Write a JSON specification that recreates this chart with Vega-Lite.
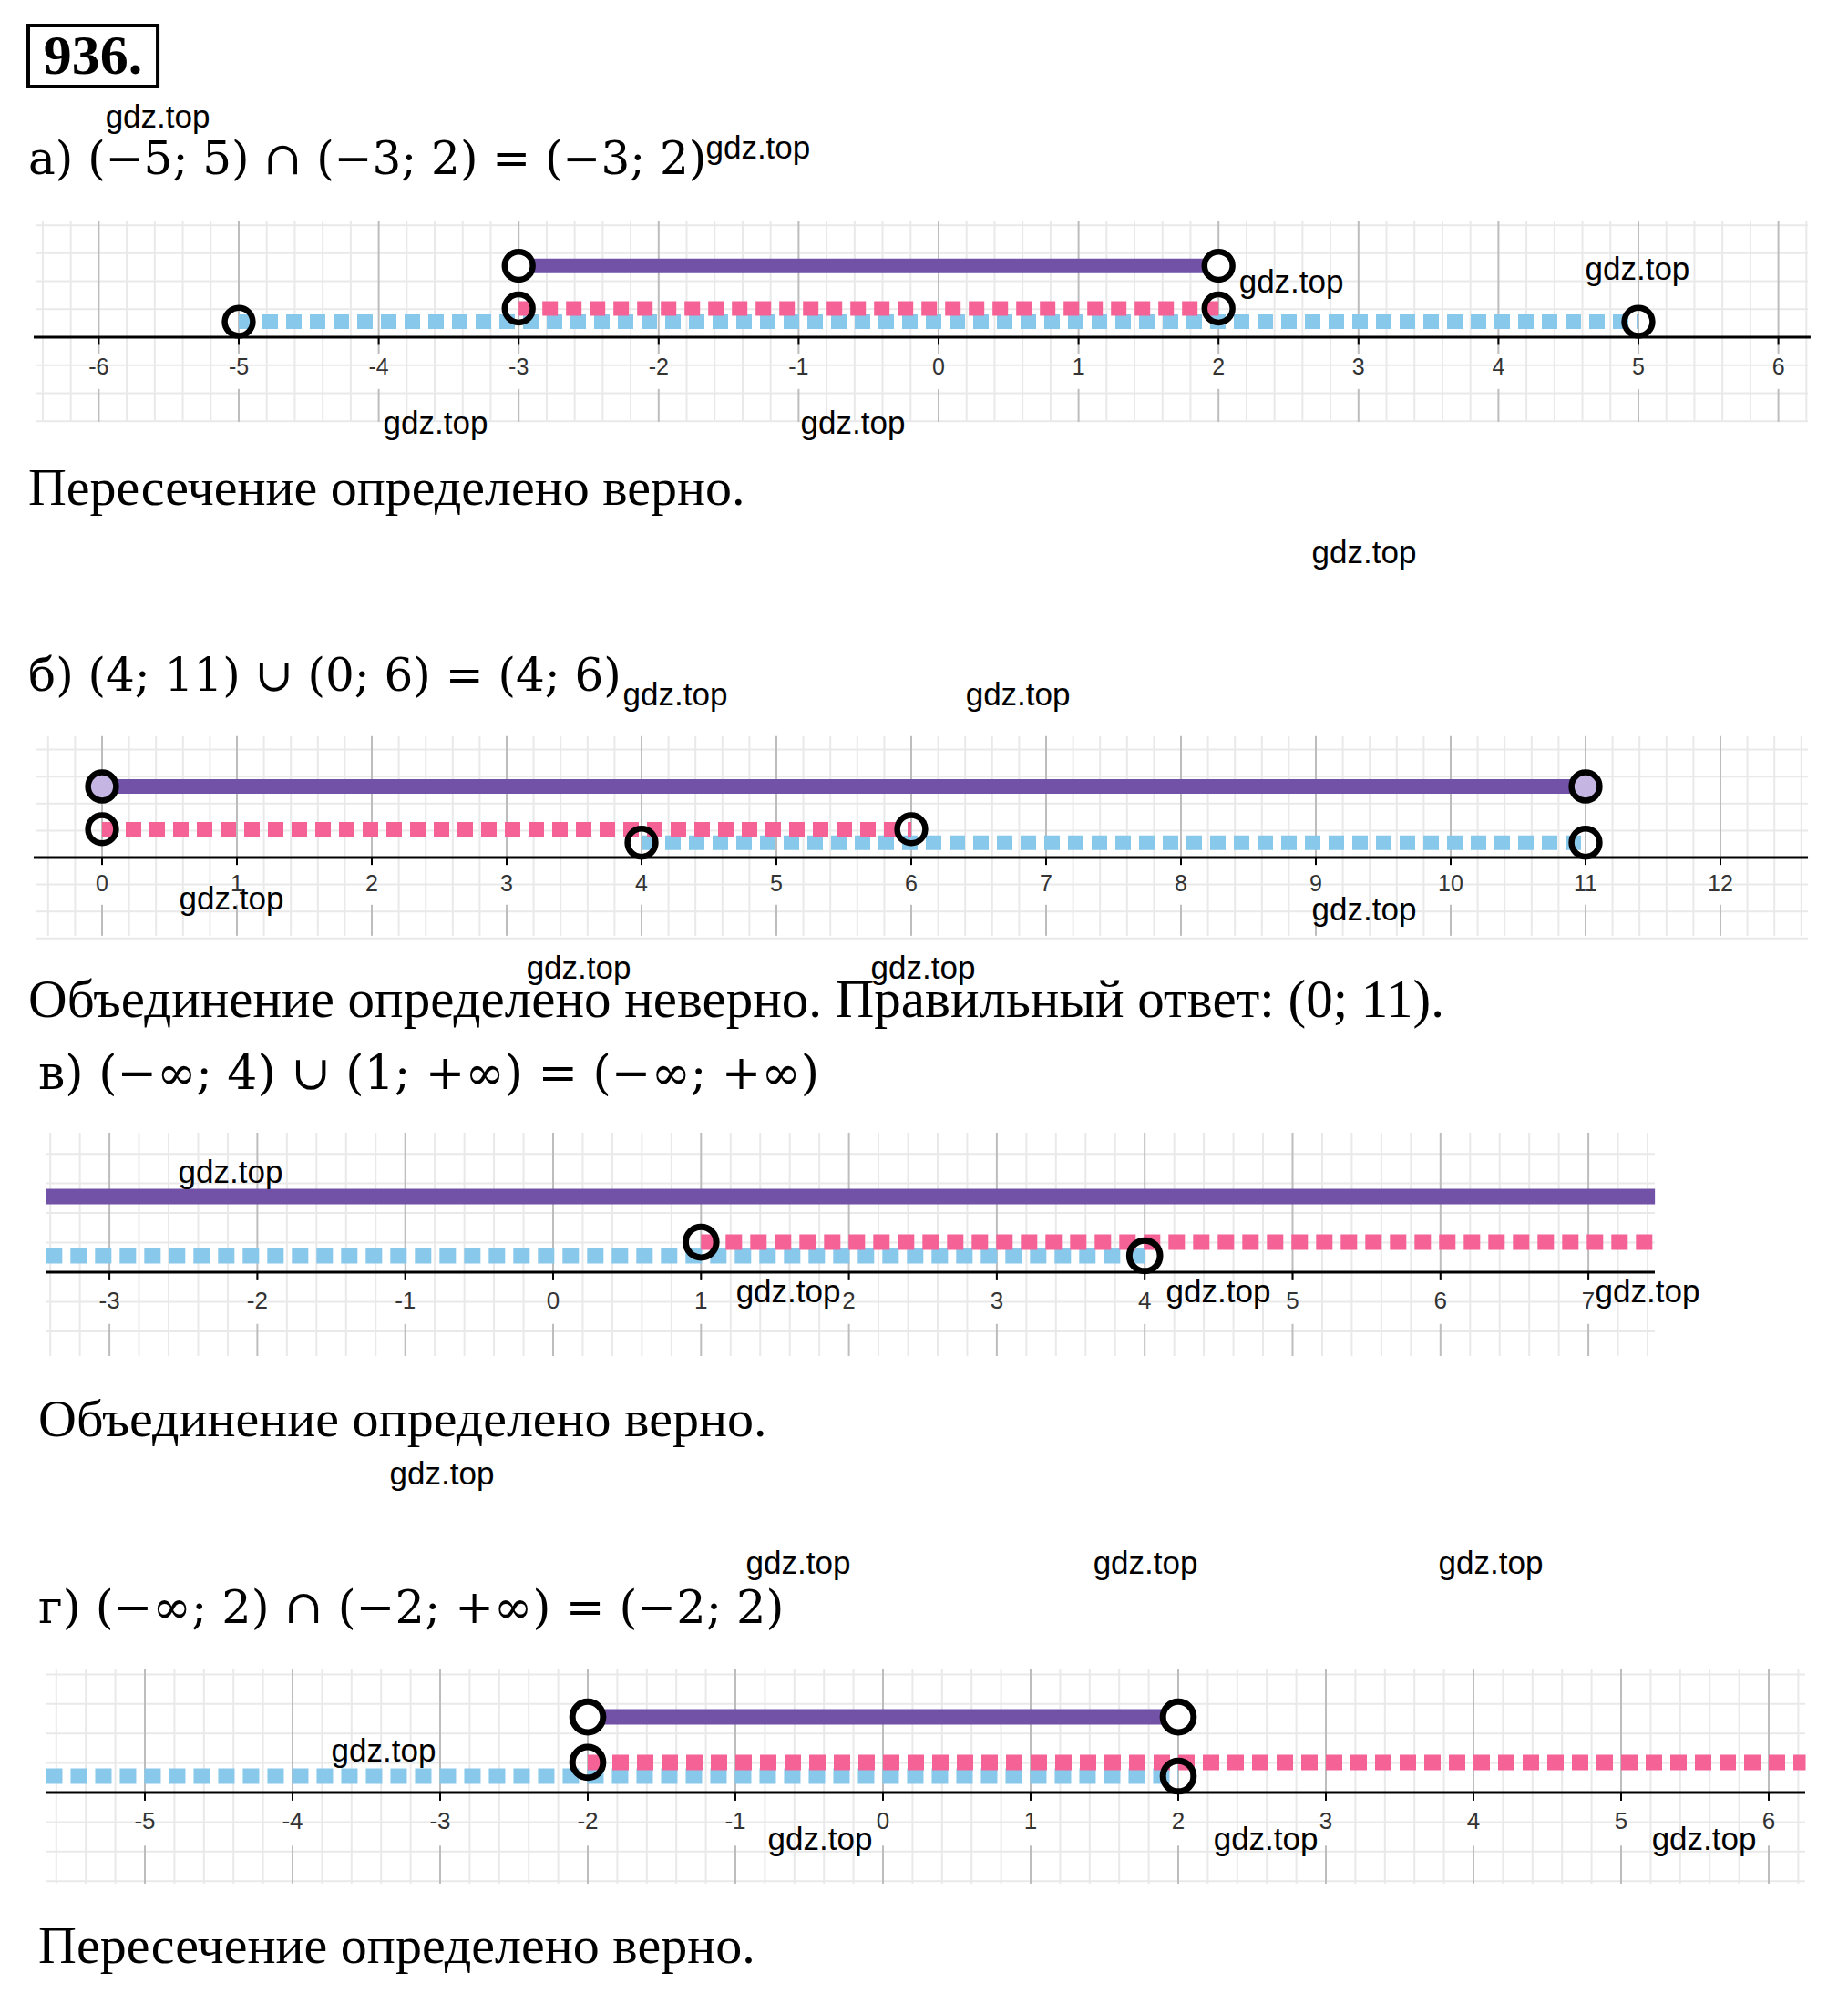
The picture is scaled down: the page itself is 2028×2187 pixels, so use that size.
{
"$schema":"https://vega.github.io/schema/vega-lite/v6.json",
"padding":0,
"spacing":0,
"background":"white",
"config":{"view":{"stroke":null}},
"datasets":{
"sections":[{"sec":"a"},{"sec":"b"},{"sec":"c"},{"sec":"d"}],
"ticks":[
{"sec":"a","v":-6,"label":"-6"},{"sec":"a","v":-5,"label":"-5"},{"sec":"a","v":-4,"label":"-4"},{"sec":"a","v":-3,"label":"-3"},{"sec":"a","v":-2,"label":"-2"},{"sec":"a","v":-1,"label":"-1"},{"sec":"a","v":0,"label":"0"},{"sec":"a","v":1,"label":"1"},{"sec":"a","v":2,"label":"2"},{"sec":"a","v":3,"label":"3"},{"sec":"a","v":4,"label":"4"},{"sec":"a","v":5,"label":"5"},{"sec":"a","v":6,"label":"6"},
{"sec":"b","v":0,"label":"0"},{"sec":"b","v":1,"label":"1"},{"sec":"b","v":2,"label":"2"},{"sec":"b","v":3,"label":"3"},{"sec":"b","v":4,"label":"4"},{"sec":"b","v":5,"label":"5"},{"sec":"b","v":6,"label":"6"},{"sec":"b","v":7,"label":"7"},{"sec":"b","v":8,"label":"8"},{"sec":"b","v":9,"label":"9"},{"sec":"b","v":10,"label":"10"},{"sec":"b","v":11,"label":"11"},{"sec":"b","v":12,"label":"12"},
{"sec":"c","v":-3,"label":"-3"},{"sec":"c","v":-2,"label":"-2"},{"sec":"c","v":-1,"label":"-1"},{"sec":"c","v":0,"label":"0"},{"sec":"c","v":1,"label":"1"},{"sec":"c","v":2,"label":"2"},{"sec":"c","v":3,"label":"3"},{"sec":"c","v":4,"label":"4"},{"sec":"c","v":5,"label":"5"},{"sec":"c","v":6,"label":"6"},{"sec":"c","v":7,"label":"7"},
{"sec":"d","v":-5,"label":"-5"},{"sec":"d","v":-4,"label":"-4"},{"sec":"d","v":-3,"label":"-3"},{"sec":"d","v":-2,"label":"-2"},{"sec":"d","v":-1,"label":"-1"},{"sec":"d","v":0,"label":"0"},{"sec":"d","v":1,"label":"1"},{"sec":"d","v":2,"label":"2"},{"sec":"d","v":3,"label":"3"},{"sec":"d","v":4,"label":"4"},{"sec":"d","v":5,"label":"5"},{"sec":"d","v":6,"label":"6"}
],
"gridx":[
{"sec":"a","vx":[-6.4,-6.2,-6,-5.8,-5.6,-5.4,-5.2,-5,-4.8,-4.6,-4.4,-4.2,-4,-3.8,-3.6,-3.4,-3.2,-3,-2.8,-2.6,-2.4,-2.2,-2,-1.8,-1.6,-1.4,-1.2,-1,-0.8,-0.6,-0.4,-0.2,0,0.2,0.4,0.6,0.8,1,1.2,1.4,1.6,1.8,2,2.2,2.4,2.6,2.8,3,3.2,3.4,3.6,3.8,4,4.2,4.4,4.6,4.8,5,5.2,5.4,5.6,5.8,6,6.2]},
{"sec":"b","vx":[-0.4,-0.2,0,0.2,0.4,0.6,0.8,1,1.2,1.4,1.6,1.8,2,2.2,2.4,2.6,2.8,3,3.2,3.4,3.6,3.8,4,4.2,4.4,4.6,4.8,5,5.2,5.4,5.6,5.8,6,6.2,6.4,6.6,6.8,7,7.2,7.4,7.6,7.8,8,8.2,8.4,8.6,8.8,9,9.2,9.4,9.6,9.8,10,10.2,10.4,10.6,10.8,11,11.2,11.4,11.6,11.8,12,12.2,12.4,12.6]},
{"sec":"c","vx":[-3.4,-3.2,-3,-2.8,-2.6,-2.4,-2.2,-2,-1.8,-1.6,-1.4,-1.2,-1,-0.8,-0.6,-0.4,-0.2,0,0.2,0.4,0.6,0.8,1,1.2,1.4,1.6,1.8,2,2.2,2.4,2.6,2.8,3,3.2,3.4,3.6,3.8,4,4.2,4.4,4.6,4.8,5,5.2,5.4,5.6,5.8,6,6.2,6.4,6.6,6.8,7,7.2,7.4]},
{"sec":"d","vx":[-5.6,-5.4,-5.2,-5,-4.8,-4.6,-4.4,-4.2,-4,-3.8,-3.6,-3.4,-3.2,-3,-2.8,-2.6,-2.4,-2.2,-2,-1.8,-1.6,-1.4,-1.2,-1,-0.8,-0.6,-0.4,-0.2,0,0.2,0.4,0.6,0.8,1,1.2,1.4,1.6,1.8,2,2.2,2.4,2.6,2.8,3,3.2,3.4,3.6,3.8,4,4.2,4.4,4.6,4.8,5,5.2,5.4,5.6,5.8,6,6.2]}
],
"gridy":[
{"sec":"a","vy":[-0.6,-0.4,-0.2,0.2,0.4,0.6,0.8]},
{"sec":"b","vy":[-0.6,-0.4,-0.2,0.2,0.4,0.6,0.8]},
{"sec":"c","vy":[-0.4,-0.2,0.2,0.4,0.6,0.8]},
{"sec":"d","vy":[-0.6,-0.4,-0.2,0.2,0.4,0.6,0.8]}
],
"intervals":[
{"sec":"a","series":"first","from":-5,"to":5},
{"sec":"a","series":"second","from":-3,"to":2},
{"sec":"a","series":"result","from":-3,"to":2},
{"sec":"b","series":"first","from":4,"to":11},
{"sec":"b","series":"second","from":0,"to":6},
{"sec":"b","series":"result","from":0,"to":11},
{"sec":"c","series":"first","from":-3.43,"to":4},
{"sec":"c","series":"second","from":1,"to":7.45},
{"sec":"c","series":"result","from":-3.43,"to":7.45},
{"sec":"d","series":"first","from":-5.67,"to":2},
{"sec":"d","series":"second","from":-2,"to":6.25},
{"sec":"d","series":"result","from":-2,"to":2}
],
"ends":[
{"sec":"a","series":"first","x":-5},{"sec":"a","series":"first","x":5},
{"sec":"a","series":"second","x":-3},{"sec":"a","series":"second","x":2},
{"sec":"a","series":"result","x":-3},{"sec":"a","series":"result","x":2},
{"sec":"b","series":"first","x":4},{"sec":"b","series":"first","x":11},
{"sec":"b","series":"second","x":0},{"sec":"b","series":"second","x":6},
{"sec":"b","series":"result","x":0},{"sec":"b","series":"result","x":11},
{"sec":"c","series":"first","x":4},
{"sec":"c","series":"second","x":1},
{"sec":"d","series":"first","x":2},
{"sec":"d","series":"second","x":-2},
{"sec":"d","series":"result","x":-2},{"sec":"d","series":"result","x":2}
],
"notes":[
{"sec":"a","kind":"num","text":"936.","x":-6.042,"y":2.005},
{"sec":"a","kind":"head","text":"а) (−5; 5) ∩ (−3; 2) = (−3; 2)","x":-6.504,"y":1.263},
{"sec":"a","kind":"body","text":"Пересечение определено верно.","x":-6.504,"y":-1.087},
{"sec":"a","kind":"wm","text":"gdz.top","x":-5.579,"y":1.566},
{"sec":"a","kind":"wm","text":"gdz.top","x":-1.29,"y":1.348},
{"sec":"a","kind":"wm","text":"gdz.top","x":2.52,"y":0.391},
{"sec":"a","kind":"wm","text":"gdz.top","x":4.993,"y":0.482},
{"sec":"a","kind":"wm","text":"gdz.top","x":-3.594,"y":-0.618},
{"sec":"a","kind":"wm","text":"gdz.top","x":-0.612,"y":-0.618},
{"sec":"a","kind":"wm","text":"gdz.top","x":3.04,"y":-1.543},
{"sec":"b","kind":"head","text":"б) (4; 11) ∪ (0; 6) = (4; 6)","x":-0.547,"y":1.338},
{"sec":"b","kind":"body","text":"Объединение определено неверно. Правильный ответ: (0; 11).","x":-0.547,"y":-1.061},
{"sec":"b","kind":"wm","text":"gdz.top","x":4.25,"y":1.203},
{"sec":"b","kind":"wm","text":"gdz.top","x":6.791,"y":1.203},
{"sec":"b","kind":"wm","text":"gdz.top","x":0.959,"y":-0.311},
{"sec":"b","kind":"wm","text":"gdz.top","x":9.358,"y":-0.392},
{"sec":"b","kind":"wm","text":"gdz.top","x":3.534,"y":-0.824},
{"sec":"b","kind":"wm","text":"gdz.top","x":6.088,"y":-0.824},
{"sec":"c","kind":"head","text":"в) (−∞; 4) ∪ (1; +∞) = (−∞; +∞)","x":-3.481,"y":1.337},
{"sec":"c","kind":"body","text":"Объединение определено верно.","x":-3.481,"y":-1.004},
{"sec":"c","kind":"wm","text":"gdz.top","x":-2.181,"y":0.672},
{"sec":"c","kind":"wm","text":"gdz.top","x":1.59,"y":-0.136},
{"sec":"c","kind":"wm","text":"gdz.top","x":4.498,"y":-0.136},
{"sec":"c","kind":"wm","text":"gdz.top","x":7.4,"y":-0.136},
{"sec":"c","kind":"wm","text":"gdz.top","x":-0.752,"y":-1.368},
{"sec":"d","kind":"head","text":"г) (−∞; 2) ∩ (−2; +∞) = (−2; 2)","x":-5.722,"y":1.241},
{"sec":"d","kind":"body","text":"Пересечение определено верно.","x":-5.722,"y":-1.049},
{"sec":"d","kind":"wm","text":"gdz.top","x":-0.574,"y":1.549},
{"sec":"d","kind":"wm","text":"gdz.top","x":1.778,"y":1.549},
{"sec":"d","kind":"wm","text":"gdz.top","x":4.117,"y":1.549},
{"sec":"d","kind":"wm","text":"gdz.top","x":-3.383,"y":0.278},
{"sec":"d","kind":"wm","text":"gdz.top","x":-0.426,"y":-0.321},
{"sec":"d","kind":"wm","text":"gdz.top","x":2.593,"y":-0.321},
{"sec":"d","kind":"wm","text":"gdz.top","x":5.562,"y":-0.321}
]
},
"vconcat":[
{"width":2028,"height":690,"layer":[
{"data":{"name":"gridx"},"transform":[{"filter":"datum.sec=='a'"},{"flatten":["vx"]},{"filter":"abs(datum.vx-round(datum.vx))>0.01"}],"mark":{"type":"rule","color":"#E9E9E9","strokeWidth":2},"encoding":{"x":{"field":"vx","type":"quantitative","scale":{"domain":[-6.7057,6.4974],"nice":false,"zero":false},"axis":null},"y":{"datum":-0.605,"type":"quantitative","scale":{"domain":[-2.0833,2.4089],"nice":false,"zero":false},"axis":null},"y2":{"datum":0.833}}},
{"data":{"name":"gridy"},"transform":[{"filter":"datum.sec=='a'"},{"flatten":["vy"]}],"mark":{"type":"rule","color":"#E9E9E9","strokeWidth":2},"encoding":{"y":{"field":"vy","type":"quantitative","axis":null},"x":{"datum":-6.452,"type":"quantitative","axis":null},"x2":{"datum":6.211}}},
{"data":{"name":"gridx"},"transform":[{"filter":"datum.sec=='a'"},{"flatten":["vx"]},{"filter":"abs(datum.vx-round(datum.vx))<=0.01"}],"mark":{"type":"rule","color":"#BDBDBD","strokeWidth":2},"encoding":{"x":{"field":"vx","type":"quantitative","axis":null},"y":{"datum":-0.12,"type":"quantitative","axis":null},"y2":{"datum":0.833}}},
{"data":{"name":"gridx"},"transform":[{"filter":"datum.sec=='a'"},{"flatten":["vx"]},{"filter":"abs(datum.vx-round(datum.vx))<=0.01"}],"mark":{"type":"rule","color":"#BDBDBD","strokeWidth":2},"encoding":{"x":{"field":"vx","type":"quantitative","axis":null},"y":{"datum":-0.605,"type":"quantitative","axis":null},"y2":{"datum":-0.37}}},
{"data":{"name":"sections"},"transform":[{"filter":"datum.sec=='a'"}],"mark":{"type":"rule","color":"#000000","strokeWidth":3},"encoding":{"x":{"datum":-6.465,"type":"quantitative","axis":null},"x2":{"datum":6.23},"y":{"datum":0,"type":"quantitative","axis":null}}},
{"data":{"name":"ticks"},"transform":[{"filter":"datum.sec=='a'"}],"mark":{"type":"rule","color":"#000000","strokeWidth":2},"encoding":{"x":{"field":"v","type":"quantitative","axis":null},"y":{"datum":-0.055,"type":"quantitative","axis":null},"y2":{"datum":0}}},
{"data":{"name":"ticks"},"transform":[{"filter":"datum.sec=='a'"}],"mark":{"type":"text","font":"Liberation Sans","fontSize":25,"color":"#333333","align":"center","baseline":"middle"},"encoding":{"x":{"field":"v","type":"quantitative","axis":null},"y":{"datum":-0.215,"type":"quantitative","axis":null},"text":{"field":"label","type":"nominal"}}},
{"data":{"name":"intervals"},"transform":[{"filter":"datum.sec=='a' && datum.series=='first'"}],"mark":{"type":"rule","color":"#87C8EB","strokeWidth":16,"strokeDash":[17,9]},"encoding":{"x":{"field":"from","type":"quantitative","axis":null},"x2":{"field":"to"},"y":{"datum":0.11,"type":"quantitative","axis":null}}},
{"data":{"name":"intervals"},"transform":[{"filter":"datum.sec=='a' && datum.series=='second'"}],"mark":{"type":"rule","color":"#F56296","strokeWidth":16,"strokeDash":[17,9]},"encoding":{"x":{"field":"from","type":"quantitative","axis":null},"x2":{"field":"to"},"y":{"datum":0.205,"type":"quantitative","axis":null}}},
{"data":{"name":"intervals"},"transform":[{"filter":"datum.sec=='a' && datum.series=='result'"}],"mark":{"type":"rule","color":"#7152A7","strokeWidth":16},"encoding":{"x":{"field":"from","type":"quantitative","axis":null},"x2":{"field":"to"},"y":{"datum":0.51,"type":"quantitative","axis":null}}},
{"data":{"name":"ends"},"transform":[{"filter":"datum.sec=='a' && datum.series=='first'"}],"mark":{"type":"point","shape":"circle","size":950,"filled":false,"color":"#000000","strokeWidth":6.5,"opacity":1},"encoding":{"x":{"field":"x","type":"quantitative","axis":null},"y":{"datum":0.11,"type":"quantitative","axis":null}}},
{"data":{"name":"ends"},"transform":[{"filter":"datum.sec=='a' && datum.series=='second'"}],"mark":{"type":"point","shape":"circle","size":950,"filled":false,"color":"#000000","strokeWidth":6.5,"opacity":1},"encoding":{"x":{"field":"x","type":"quantitative","axis":null},"y":{"datum":0.205,"type":"quantitative","axis":null}}},
{"data":{"name":"ends"},"transform":[{"filter":"datum.sec=='a' && datum.series=='result'"}],"mark":{"type":"point","shape":"circle","size":950,"filled":true,"fill":"#FFFFFF","stroke":"#000000","strokeWidth":6.5,"opacity":1},"encoding":{"x":{"field":"x","type":"quantitative","axis":null},"y":{"datum":0.51,"type":"quantitative","axis":null}}},
{"data":{"name":"sections"},"transform":[{"filter":"datum.sec=='a'"}],"mark":{"type":"rect","filled":false,"color":"#000000","strokeWidth":4},"encoding":{"x":{"datum":-6.504,"type":"quantitative","axis":null},"x2":{"datum":-5.579},"y":{"datum":1.79,"type":"quantitative","axis":null},"y2":{"datum":2.227}}},
{"data":{"name":"notes"},"transform":[{"filter":"datum.sec=='a' && datum.kind=='num'"}],"mark":{"type":"text","font":"Liberation Serif","fontWeight":"bold","fontSize":62,"align":"center","baseline":"middle","color":"#000000"},"encoding":{"x":{"field":"x","type":"quantitative","axis":null},"y":{"field":"y","type":"quantitative","axis":null},"text":{"field":"text","type":"nominal"}}},
{"data":{"name":"notes"},"transform":[{"filter":"datum.sec=='a' && datum.kind=='head'"}],"mark":{"type":"text","font":"DejaVu Serif","fontSize":50,"align":"left","baseline":"middle","color":"#000000"},"encoding":{"x":{"field":"x","type":"quantitative","axis":null},"y":{"field":"y","type":"quantitative","axis":null},"text":{"field":"text","type":"nominal"}}},
{"data":{"name":"notes"},"transform":[{"filter":"datum.sec=='a' && datum.kind=='body'"}],"mark":{"type":"text","font":"Liberation Serif","fontSize":58,"align":"left","baseline":"middle","color":"#000000"},"encoding":{"x":{"field":"x","type":"quantitative","axis":null},"y":{"field":"y","type":"quantitative","axis":null},"text":{"field":"text","type":"nominal"}}},
{"data":{"name":"notes"},"transform":[{"filter":"datum.sec=='a' && datum.kind=='wm'"}],"mark":{"type":"text","font":"Liberation Sans","fontSize":35,"align":"center","baseline":"middle","color":"#000000"},"encoding":{"x":{"field":"x","type":"quantitative","axis":null},"y":{"field":"y","type":"quantitative","axis":null},"text":{"field":"text","type":"nominal"}}}
]},
{"width":2028,"height":450,"layer":[
{"data":{"name":"gridx"},"transform":[{"filter":"datum.sec=='b'"},{"flatten":["vx"]},{"filter":"abs(datum.vx-round(datum.vx))>0.01"}],"mark":{"type":"rule","color":"#E9E9E9","strokeWidth":2},"encoding":{"x":{"field":"vx","type":"quantitative","scale":{"domain":[-0.7568,12.9459],"nice":false,"zero":false},"axis":null},"y":{"datum":-0.58,"type":"quantitative","scale":{"domain":[-1.3446,1.6959],"nice":false,"zero":false},"axis":null},"y2":{"datum":0.9}}},
{"data":{"name":"gridy"},"transform":[{"filter":"datum.sec=='b'"},{"flatten":["vy"]}],"mark":{"type":"rule","color":"#E9E9E9","strokeWidth":2},"encoding":{"y":{"field":"vy","type":"quantitative","axis":null},"x":{"datum":-0.493,"type":"quantitative","axis":null},"x2":{"datum":12.649}}},
{"data":{"name":"gridx"},"transform":[{"filter":"datum.sec=='b'"},{"flatten":["vx"]},{"filter":"abs(datum.vx-round(datum.vx))<=0.01"}],"mark":{"type":"rule","color":"#BDBDBD","strokeWidth":2},"encoding":{"x":{"field":"vx","type":"quantitative","axis":null},"y":{"datum":-0.05,"type":"quantitative","axis":null},"y2":{"datum":0.9}}},
{"data":{"name":"gridx"},"transform":[{"filter":"datum.sec=='b'"},{"flatten":["vx"]},{"filter":"abs(datum.vx-round(datum.vx))<=0.01"}],"mark":{"type":"rule","color":"#BDBDBD","strokeWidth":2},"encoding":{"x":{"field":"vx","type":"quantitative","axis":null},"y":{"datum":-0.58,"type":"quantitative","axis":null},"y2":{"datum":-0.35}}},
{"data":{"name":"sections"},"transform":[{"filter":"datum.sec=='b'"}],"mark":{"type":"rule","color":"#000000","strokeWidth":3},"encoding":{"x":{"datum":-0.507,"type":"quantitative","axis":null},"x2":{"datum":12.649},"y":{"datum":0,"type":"quantitative","axis":null}}},
{"data":{"name":"ticks"},"transform":[{"filter":"datum.sec=='b'"}],"mark":{"type":"rule","color":"#000000","strokeWidth":2},"encoding":{"x":{"field":"v","type":"quantitative","axis":null},"y":{"datum":-0.055,"type":"quantitative","axis":null},"y2":{"datum":0}}},
{"data":{"name":"ticks"},"transform":[{"filter":"datum.sec=='b'"}],"mark":{"type":"text","font":"Liberation Sans","fontSize":25,"color":"#333333","align":"center","baseline":"middle"},"encoding":{"x":{"field":"v","type":"quantitative","axis":null},"y":{"datum":-0.196,"type":"quantitative","axis":null},"text":{"field":"label","type":"nominal"}}},
{"data":{"name":"intervals"},"transform":[{"filter":"datum.sec=='b' && datum.series=='first'"}],"mark":{"type":"rule","color":"#87C8EB","strokeWidth":16,"strokeDash":[17,9]},"encoding":{"x":{"field":"from","type":"quantitative","axis":null},"x2":{"field":"to"},"y":{"datum":0.11,"type":"quantitative","axis":null}}},
{"data":{"name":"intervals"},"transform":[{"filter":"datum.sec=='b' && datum.series=='second'"}],"mark":{"type":"rule","color":"#F56296","strokeWidth":16,"strokeDash":[17,9]},"encoding":{"x":{"field":"from","type":"quantitative","axis":null},"x2":{"field":"to"},"y":{"datum":0.21,"type":"quantitative","axis":null}}},
{"data":{"name":"intervals"},"transform":[{"filter":"datum.sec=='b' && datum.series=='result'"}],"mark":{"type":"rule","color":"#7152A7","strokeWidth":16},"encoding":{"x":{"field":"from","type":"quantitative","axis":null},"x2":{"field":"to"},"y":{"datum":0.527,"type":"quantitative","axis":null}}},
{"data":{"name":"ends"},"transform":[{"filter":"datum.sec=='b' && datum.series=='first'"}],"mark":{"type":"point","shape":"circle","size":950,"filled":false,"color":"#000000","strokeWidth":6.5,"opacity":1},"encoding":{"x":{"field":"x","type":"quantitative","axis":null},"y":{"datum":0.11,"type":"quantitative","axis":null}}},
{"data":{"name":"ends"},"transform":[{"filter":"datum.sec=='b' && datum.series=='second'"}],"mark":{"type":"point","shape":"circle","size":950,"filled":false,"color":"#000000","strokeWidth":6.5,"opacity":1},"encoding":{"x":{"field":"x","type":"quantitative","axis":null},"y":{"datum":0.21,"type":"quantitative","axis":null}}},
{"data":{"name":"ends"},"transform":[{"filter":"datum.sec=='b' && datum.series=='result'"}],"mark":{"type":"point","shape":"circle","size":950,"filled":true,"fill":"#C4B5E2","stroke":"#000000","strokeWidth":6.5,"opacity":1},"encoding":{"x":{"field":"x","type":"quantitative","axis":null},"y":{"datum":0.527,"type":"quantitative","axis":null}}},
{"data":{"name":"notes"},"transform":[{"filter":"datum.sec=='b' && datum.kind=='head'"}],"mark":{"type":"text","font":"DejaVu Serif","fontSize":50,"align":"left","baseline":"middle","color":"#000000"},"encoding":{"x":{"field":"x","type":"quantitative","axis":null},"y":{"field":"y","type":"quantitative","axis":null},"text":{"field":"text","type":"nominal"}}},
{"data":{"name":"notes"},"transform":[{"filter":"datum.sec=='b' && datum.kind=='body'"}],"mark":{"type":"text","font":"Liberation Serif","fontSize":59,"align":"left","baseline":"middle","color":"#000000"},"encoding":{"x":{"field":"x","type":"quantitative","axis":null},"y":{"field":"y","type":"quantitative","axis":null},"text":{"field":"text","type":"nominal"}}},
{"data":{"name":"notes"},"transform":[{"filter":"datum.sec=='b' && datum.kind=='wm'"}],"mark":{"type":"text","font":"Liberation Sans","fontSize":35,"align":"center","baseline":"middle","color":"#000000"},"encoding":{"x":{"field":"x","type":"quantitative","axis":null},"y":{"field":"y","type":"quantitative","axis":null},"text":{"field":"text","type":"nominal"}}}
]},
{"width":2028,"height":540,"layer":[
{"data":{"name":"gridx"},"transform":[{"filter":"datum.sec=='c'"},{"flatten":["vx"]},{"filter":"abs(datum.vx-round(datum.vx))>0.01"}],"mark":{"type":"rule","color":"#E9E9E9","strokeWidth":2},"encoding":{"x":{"field":"vx","type":"quantitative","scale":{"domain":[-3.74,8.7554],"nice":false,"zero":false},"axis":null},"y":{"datum":-0.567,"type":"quantitative","scale":{"domain":[-1.7498,1.5773],"nice":false,"zero":false},"axis":null},"y2":{"datum":0.943}}},
{"data":{"name":"gridy"},"transform":[{"filter":"datum.sec=='c'"},{"flatten":["vy"]}],"mark":{"type":"rule","color":"#E9E9E9","strokeWidth":2},"encoding":{"y":{"field":"vy","type":"quantitative","axis":null},"x":{"datum":-3.432,"type":"quantitative","axis":null},"x2":{"datum":7.449}}},
{"data":{"name":"gridx"},"transform":[{"filter":"datum.sec=='c'"},{"flatten":["vx"]},{"filter":"abs(datum.vx-round(datum.vx))<=0.01"}],"mark":{"type":"rule","color":"#BDBDBD","strokeWidth":2},"encoding":{"x":{"field":"vx","type":"quantitative","axis":null},"y":{"datum":-0.05,"type":"quantitative","axis":null},"y2":{"datum":0.943}}},
{"data":{"name":"gridx"},"transform":[{"filter":"datum.sec=='c'"},{"flatten":["vx"]},{"filter":"abs(datum.vx-round(datum.vx))<=0.01"}],"mark":{"type":"rule","color":"#BDBDBD","strokeWidth":2},"encoding":{"x":{"field":"vx","type":"quantitative","axis":null},"y":{"datum":-0.567,"type":"quantitative","axis":null},"y2":{"datum":-0.35}}},
{"data":{"name":"sections"},"transform":[{"filter":"datum.sec=='c'"}],"mark":{"type":"rule","color":"#000000","strokeWidth":3},"encoding":{"x":{"datum":-3.432,"type":"quantitative","axis":null},"x2":{"datum":7.449},"y":{"datum":0,"type":"quantitative","axis":null}}},
{"data":{"name":"ticks"},"transform":[{"filter":"datum.sec=='c'"}],"mark":{"type":"rule","color":"#000000","strokeWidth":2},"encoding":{"x":{"field":"v","type":"quantitative","axis":null},"y":{"datum":-0.055,"type":"quantitative","axis":null},"y2":{"datum":0}}},
{"data":{"name":"ticks"},"transform":[{"filter":"datum.sec=='c'"}],"mark":{"type":"text","font":"Liberation Sans","fontSize":26,"color":"#333333","align":"center","baseline":"middle"},"encoding":{"x":{"field":"v","type":"quantitative","axis":null},"y":{"datum":-0.197,"type":"quantitative","axis":null},"text":{"field":"label","type":"nominal"}}},
{"data":{"name":"intervals"},"transform":[{"filter":"datum.sec=='c' && datum.series=='first'"}],"mark":{"type":"rule","color":"#87C8EB","strokeWidth":17,"strokeDash":[18,9]},"encoding":{"x":{"field":"from","type":"quantitative","axis":null},"x2":{"field":"to"},"y":{"datum":0.111,"type":"quantitative","axis":null}}},
{"data":{"name":"intervals"},"transform":[{"filter":"datum.sec=='c' && datum.series=='second'"}],"mark":{"type":"rule","color":"#F56296","strokeWidth":17,"strokeDash":[18,9]},"encoding":{"x":{"field":"from","type":"quantitative","axis":null},"x2":{"field":"to"},"y":{"datum":0.203,"type":"quantitative","axis":null}}},
{"data":{"name":"intervals"},"transform":[{"filter":"datum.sec=='c' && datum.series=='result'"}],"mark":{"type":"rule","color":"#7152A7","strokeWidth":17},"encoding":{"x":{"field":"from","type":"quantitative","axis":null},"x2":{"field":"to"},"y":{"datum":0.511,"type":"quantitative","axis":null}}},
{"data":{"name":"ends"},"transform":[{"filter":"datum.sec=='c' && datum.series=='first'"}],"mark":{"type":"point","shape":"circle","size":1134,"filled":false,"color":"#000000","strokeWidth":7,"opacity":1},"encoding":{"x":{"field":"x","type":"quantitative","axis":null},"y":{"datum":0.111,"type":"quantitative","axis":null}}},
{"data":{"name":"ends"},"transform":[{"filter":"datum.sec=='c' && datum.series=='second'"}],"mark":{"type":"point","shape":"circle","size":1134,"filled":false,"color":"#000000","strokeWidth":7,"opacity":1},"encoding":{"x":{"field":"x","type":"quantitative","axis":null},"y":{"datum":0.203,"type":"quantitative","axis":null}}},
{"data":{"name":"notes"},"transform":[{"filter":"datum.sec=='c' && datum.kind=='head'"}],"mark":{"type":"text","font":"DejaVu Serif","fontSize":52,"align":"left","baseline":"middle","color":"#000000"},"encoding":{"x":{"field":"x","type":"quantitative","axis":null},"y":{"field":"y","type":"quantitative","axis":null},"text":{"field":"text","type":"nominal"}}},
{"data":{"name":"notes"},"transform":[{"filter":"datum.sec=='c' && datum.kind=='body'"}],"mark":{"type":"text","font":"Liberation Serif","fontSize":58,"align":"left","baseline":"middle","color":"#000000"},"encoding":{"x":{"field":"x","type":"quantitative","axis":null},"y":{"field":"y","type":"quantitative","axis":null},"text":{"field":"text","type":"nominal"}}},
{"data":{"name":"notes"},"transform":[{"filter":"datum.sec=='c' && datum.kind=='wm'"}],"mark":{"type":"text","font":"Liberation Sans","fontSize":35,"align":"center","baseline":"middle","color":"#000000"},"encoding":{"x":{"field":"x","type":"quantitative","axis":null},"y":{"field":"y","type":"quantitative","axis":null},"text":{"field":"text","type":"nominal"}}}
]},
{"width":2028,"height":507,"layer":[
{"data":{"name":"gridx"},"transform":[{"filter":"datum.sec=='d'"},{"flatten":["vx"]},{"filter":"abs(datum.vx-round(datum.vx))>0.01"}],"mark":{"type":"rule","color":"#E9E9E9","strokeWidth":2},"encoding":{"x":{"field":"vx","type":"quantitative","scale":{"domain":[-5.9815,6.537],"nice":false,"zero":false},"axis":null},"y":{"datum":-0.617,"type":"quantitative","scale":{"domain":[-1.358,1.7716],"nice":false,"zero":false},"axis":null},"y2":{"datum":0.833}}},
{"data":{"name":"gridy"},"transform":[{"filter":"datum.sec=='d'"},{"flatten":["vy"]}],"mark":{"type":"rule","color":"#E9E9E9","strokeWidth":2},"encoding":{"y":{"field":"vy","type":"quantitative","axis":null},"x":{"datum":-5.673,"type":"quantitative","axis":null},"x2":{"datum":6.247}}},
{"data":{"name":"gridx"},"transform":[{"filter":"datum.sec=='d'"},{"flatten":["vx"]},{"filter":"abs(datum.vx-round(datum.vx))<=0.01"}],"mark":{"type":"rule","color":"#BDBDBD","strokeWidth":2},"encoding":{"x":{"field":"vx","type":"quantitative","axis":null},"y":{"datum":-0.05,"type":"quantitative","axis":null},"y2":{"datum":0.833}}},
{"data":{"name":"gridx"},"transform":[{"filter":"datum.sec=='d'"},{"flatten":["vx"]},{"filter":"abs(datum.vx-round(datum.vx))<=0.01"}],"mark":{"type":"rule","color":"#BDBDBD","strokeWidth":2},"encoding":{"x":{"field":"vx","type":"quantitative","axis":null},"y":{"datum":-0.617,"type":"quantitative","axis":null},"y2":{"datum":-0.36}}},
{"data":{"name":"sections"},"transform":[{"filter":"datum.sec=='d'"}],"mark":{"type":"rule","color":"#000000","strokeWidth":3},"encoding":{"x":{"datum":-5.673,"type":"quantitative","axis":null},"x2":{"datum":6.247},"y":{"datum":0,"type":"quantitative","axis":null}}},
{"data":{"name":"ticks"},"transform":[{"filter":"datum.sec=='d'"}],"mark":{"type":"rule","color":"#000000","strokeWidth":2},"encoding":{"x":{"field":"v","type":"quantitative","axis":null},"y":{"datum":-0.055,"type":"quantitative","axis":null},"y2":{"datum":0}}},
{"data":{"name":"ticks"},"transform":[{"filter":"datum.sec=='d'"}],"mark":{"type":"text","font":"Liberation Sans","fontSize":26,"color":"#333333","align":"center","baseline":"middle"},"encoding":{"x":{"field":"v","type":"quantitative","axis":null},"y":{"datum":-0.2,"type":"quantitative","axis":null},"text":{"field":"label","type":"nominal"}}},
{"data":{"name":"intervals"},"transform":[{"filter":"datum.sec=='d' && datum.series=='first'"}],"mark":{"type":"rule","color":"#87C8EB","strokeWidth":17,"strokeDash":[18,9]},"encoding":{"x":{"field":"from","type":"quantitative","axis":null},"x2":{"field":"to"},"y":{"datum":0.111,"type":"quantitative","axis":null}}},
{"data":{"name":"intervals"},"transform":[{"filter":"datum.sec=='d' && datum.series=='second'"}],"mark":{"type":"rule","color":"#F56296","strokeWidth":17,"strokeDash":[18,9]},"encoding":{"x":{"field":"from","type":"quantitative","axis":null},"x2":{"field":"to"},"y":{"datum":0.204,"type":"quantitative","axis":null}}},
{"data":{"name":"intervals"},"transform":[{"filter":"datum.sec=='d' && datum.series=='result'"}],"mark":{"type":"rule","color":"#7152A7","strokeWidth":17},"encoding":{"x":{"field":"from","type":"quantitative","axis":null},"x2":{"field":"to"},"y":{"datum":0.512,"type":"quantitative","axis":null}}},
{"data":{"name":"ends"},"transform":[{"filter":"datum.sec=='d' && datum.series=='first'"}],"mark":{"type":"point","shape":"circle","size":1134,"filled":false,"color":"#000000","strokeWidth":7,"opacity":1},"encoding":{"x":{"field":"x","type":"quantitative","axis":null},"y":{"datum":0.111,"type":"quantitative","axis":null}}},
{"data":{"name":"ends"},"transform":[{"filter":"datum.sec=='d' && datum.series=='second'"}],"mark":{"type":"point","shape":"circle","size":1134,"filled":false,"color":"#000000","strokeWidth":7,"opacity":1},"encoding":{"x":{"field":"x","type":"quantitative","axis":null},"y":{"datum":0.204,"type":"quantitative","axis":null}}},
{"data":{"name":"ends"},"transform":[{"filter":"datum.sec=='d' && datum.series=='result'"}],"mark":{"type":"point","shape":"circle","size":1134,"filled":true,"fill":"#FFFFFF","stroke":"#000000","strokeWidth":7,"opacity":1},"encoding":{"x":{"field":"x","type":"quantitative","axis":null},"y":{"datum":0.512,"type":"quantitative","axis":null}}},
{"data":{"name":"notes"},"transform":[{"filter":"datum.sec=='d' && datum.kind=='head'"}],"mark":{"type":"text","font":"DejaVu Serif","fontSize":51,"align":"left","baseline":"middle","color":"#000000"},"encoding":{"x":{"field":"x","type":"quantitative","axis":null},"y":{"field":"y","type":"quantitative","axis":null},"text":{"field":"text","type":"nominal"}}},
{"data":{"name":"notes"},"transform":[{"filter":"datum.sec=='d' && datum.kind=='body'"}],"mark":{"type":"text","font":"Liberation Serif","fontSize":58,"align":"left","baseline":"middle","color":"#000000"},"encoding":{"x":{"field":"x","type":"quantitative","axis":null},"y":{"field":"y","type":"quantitative","axis":null},"text":{"field":"text","type":"nominal"}}},
{"data":{"name":"notes"},"transform":[{"filter":"datum.sec=='d' && datum.kind=='wm'"}],"mark":{"type":"text","font":"Liberation Sans","fontSize":35,"align":"center","baseline":"middle","color":"#000000"},"encoding":{"x":{"field":"x","type":"quantitative","axis":null},"y":{"field":"y","type":"quantitative","axis":null},"text":{"field":"text","type":"nominal"}}}
]}
]
}
